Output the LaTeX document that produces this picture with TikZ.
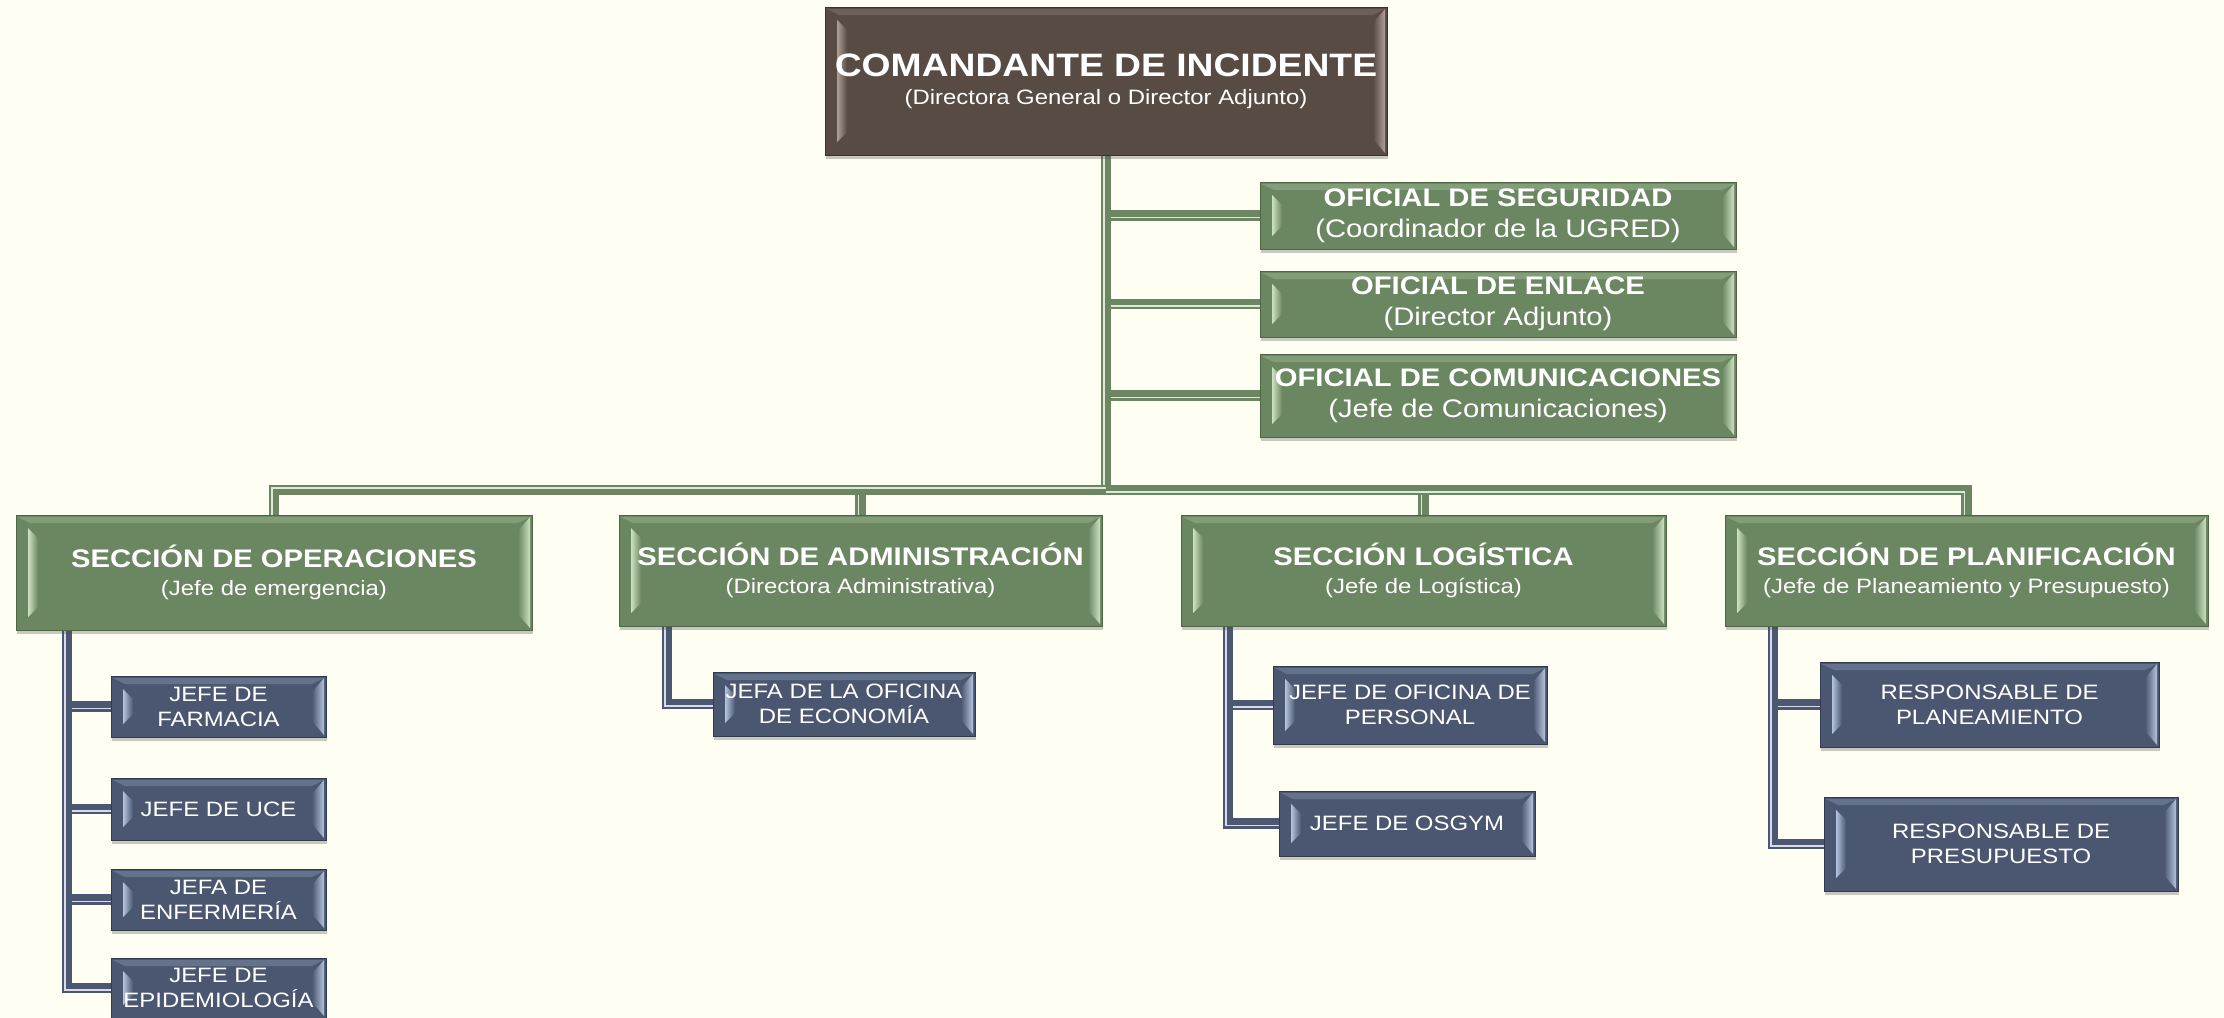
\documentclass[tikz,border=0pt]{standalone}
\usepackage{fontspec}
\setmainfont[FakeStretch=1.15]{Liberation Sans}
\usetikzlibrary{calc,shadows}
\pgfdeclarelayer{back}\pgfdeclarelayer{bg}
\pgfsetlayers{back,bg,main}
\definecolor{bgc}{RGB}{254,254,242}
\definecolor{brfill}{RGB}{88,75,68}
\definecolor{brlight}{RGB}{175,160,150}
\definecolor{brline}{RGB}{60,50,45}
\definecolor{grfill}{RGB}{107,135,98}
\definecolor{grlight}{RGB}{205,225,192}
\definecolor{grline}{RGB}{78,102,70}
\definecolor{blfill}{RGB}{75,87,112}
\definecolor{bllight}{RGB}{180,195,222}
\definecolor{blline}{RGB}{50,60,80}
\definecolor{gcon}{RGB}{108,134,100}
\definecolor{gconin}{RGB}{222,232,212}
\definecolor{bcon}{RGB}{76,88,113}
\definecolor{bconin}{RGB}{215,220,232}
\tikzset{
  bevelbox/.style n args={3}{rectangle, inner sep=0pt, outer sep=0pt,
    fill=#1, draw=#3, line width=0.5pt, text=white, align=center,
    drop shadow={shadow xshift=0.6pt, shadow yshift=-1.8pt, opacity=0.3, fill=black!70, draw=none},
    path picture={
      \path (path picture bounding box.south west) coordinate (q1)
            (path picture bounding box.north east) coordinate (q2);
      \fill[left color=#2, right color=#1]
        ($(q1)+(6pt,6.5pt)$) -- ($(q1|-q2)+(6pt,-6.5pt)$) --
        ($(q1|-q2)+(11pt,-11.5pt)$) -- ($(q1)+(11pt,11.5pt)$) -- cycle;
      \fill[left color=#1, right color=#2]
        ($(q2|-q1)+(-1pt,1pt)$) -- ($(q2)+(-1pt,-1pt)$) --
        ($(q2)+(-7pt,-8pt)$) -- ($(q2|-q1)+(-7pt,8pt)$) -- cycle;
      \fill[#2, opacity=0.25]
        ($(q1|-q2)+(1pt,-1pt)$) -- ($(q2)+(-1pt,-1pt)$) --
        ($(q2)+(-7pt,-4pt)$) -- ($(q1|-q2)+(7pt,-4pt)$) -- cycle;
    }},
  brbox/.style={bevelbox={brfill}{brlight}{brline}},
  grbox/.style={bevelbox={grfill}{grlight}{grline}},
  blbox/.style={bevelbox={blfill}{bllight}{blline}},
  topfont/.style={font=\fontsize{10.4}{14}\selectfont},
  offfont/.style={font=\fontsize{12.7}{15.3}\selectfont},
  secfont/.style={font=\fontsize{10.4}{14.3}\selectfont},
  subfont/.style={font=\fontsize{10.4}{12.5}\selectfont},
  gdk/.style={draw=gcon, line width=5.2pt},
  glt/.style={draw=gconin, line width=0.85pt},
  bdk/.style={draw=bcon, line width=5.2pt},
  blt/.style={draw=bconin, line width=0.85pt},
}
\begin{document}
\begin{tikzpicture}[x=0.5pt,y=-0.5pt]
\begin{pgfonlayer}{back}
\fill[bgc] (0,0) rectangle (2224,1018);
\end{pgfonlayer}
\useasboundingbox (0,0) rectangle (2224,1018);

% top
\node[brbox, topfont, minimum width=281pt, minimum height=74pt] (CI) at (1106,81)
  {{\fontsize{16.2}{18}\selectfont\bfseries COMANDANTE DE INCIDENTE}\\(Directora General o Director Adjunto)};

% officials
\node[grbox, offfont, minimum width=238pt, minimum height=33.5pt] (SEG) at (1498,215.5)
  {{\bfseries OFICIAL DE SEGURIDAD}\\(Coordinador de la UGRED)};
\node[grbox, offfont, minimum width=238pt, minimum height=33pt] (ENL) at (1498,304)
  {{\bfseries OFICIAL DE ENLACE}\\(Director Adjunto)};
\node[grbox, offfont, minimum width=238pt, minimum height=41.5pt] (COM) at (1498,395.5)
  {{\bfseries OFICIAL DE COMUNICACIONES}\\(Jefe de Comunicaciones)};

% sections
\node[grbox, secfont, minimum width=258pt, minimum height=57.5pt] (OPS) at (274,572.5)
  {{\fontsize{12.7}{14}\selectfont\bfseries SECCIÓN DE OPERACIONES}\\(Jefe de emergencia)};
\node[grbox, secfont, minimum width=241.5pt, minimum height=55.5pt] (ADM) at (860.5,570.5)
  {{\fontsize{12.7}{14}\selectfont\bfseries SECCIÓN DE ADMINISTRACIÓN}\\(Directora Administrativa)};
\node[grbox, secfont, minimum width=242.5pt, minimum height=55.5pt] (LOG) at (1423.5,570.5)
  {{\fontsize{12.7}{14}\selectfont\bfseries SECCIÓN LOGÍSTICA}\\(Jefe de Logística)};
\node[grbox, secfont, minimum width=241.5pt, minimum height=55.5pt] (PLA) at (1966.5,570.5)
  {{\fontsize{12.7}{14}\selectfont\bfseries SECCIÓN DE PLANIFICACIÓN}\\(Jefe de Planeamiento y Presupuesto)};

% sub units
\node[blbox, subfont, minimum width=107.5pt, minimum height=30.5pt] (FAR) at (218.5,706.5) {JEFE DE\\FARMACIA};
\node[blbox, subfont, minimum width=107.5pt, minimum height=31pt] (UCE) at (218.5,809) {JEFE DE UCE};
\node[blbox, subfont, minimum width=107.5pt, minimum height=30.5pt] (ENF) at (218.5,899.5) {JEFA DE\\ENFERMERÍA};
\node[blbox, subfont, minimum width=107.5pt, minimum height=30pt] (EPI) at (218.5,988) {JEFE DE\\EPIDEMIOLOGÍA};
\node[blbox, subfont, minimum width=131pt, minimum height=32pt] (ECO) at (844,704) {JEFA DE LA OFICINA\\DE ECONOMÍA};
\node[blbox, subfont, minimum width=137pt, minimum height=39pt] (PER) at (1410,705) {JEFE DE OFICINA DE\\PERSONAL};
\node[blbox, subfont, minimum width=128pt, minimum height=32.5pt] (OSG) at (1407,823.5) {JEFE DE OSGYM};
\node[blbox, subfont, minimum width=169.5pt, minimum height=42.5pt] (PLN) at (1989.5,704.5) {RESPONSABLE DE\\PLANEAMIENTO};
\node[blbox, subfont, minimum width=177pt, minimum height=47pt] (PRE) at (2001,844) {RESPONSABLE DE\\PRESUPUESTO};

\coordinate (bus) at (1106,490);
\coordinate (opsx) at ($(OPS.south west)+(51,0)$);
\coordinate (admx) at ($(ADM.south west)+(48,0)$);
\coordinate (logx) at ($(LOG.south west)+(47,0)$);
\coordinate (plax) at ($(PLA.south west)+(48,0)$);

\begin{pgfonlayer}{bg}
% branches to the officials
\foreach \n in {SEG,ENL,COM}{
  \draw[gdk] (CI.south |- \n.west) -- (\n.west);
  \draw[glt] ($(CI.south |- \n.west)+(0,2.1)$) -- ($(\n.west)+(0,2.1)$);
}
% trunk
\draw[gdk] (CI.south) -- (bus);
\draw[glt] ($(CI.south)+(-2.1,0)$) -- ($(bus)+(-2.1,0)$);
% drops to the middle sections
\foreach \n in {ADM,LOG}{
  \draw[gdk] (bus -| \n.north) -- (\n.north);
  \draw[glt] ($(bus -| \n.north)+(-2.1,0)$) -- ($(\n.north)+(-2.1,0)$);
}
% bus, left and right
\draw[gdk] (bus) -| (OPS.north);
\draw[glt] ($(bus)+(0,-2.1)$) -- ($(bus -| OPS.north)+(-2.1,-2.1)$) -- ($(OPS.north)+(-2.1,0)$);
\draw[gdk] (bus) -| (PLA.north);
\draw[glt] ($(bus)+(0,2.1)$) -- ($(bus -| PLA.north)+(-2.1,2.1)$) -- ($(PLA.north)+(-2.1,0)$);

% blue connectors
\foreach \s/\c in {opsx/FAR,opsx/UCE,opsx/ENF,opsx/EPI,admx/ECO,logx/PER,logx/OSG,plax/PLN,plax/PRE}{
  \draw[bdk] (\s) |- (\c.west);
  \draw[blt] ($(\s)+(-2.1,0)$) -- ($(\s |- \c.west)+(-2.1,2.1)$) -- ($(\c.west)+(0,2.1)$);
}
\end{pgfonlayer}
\end{tikzpicture}
\end{document}
